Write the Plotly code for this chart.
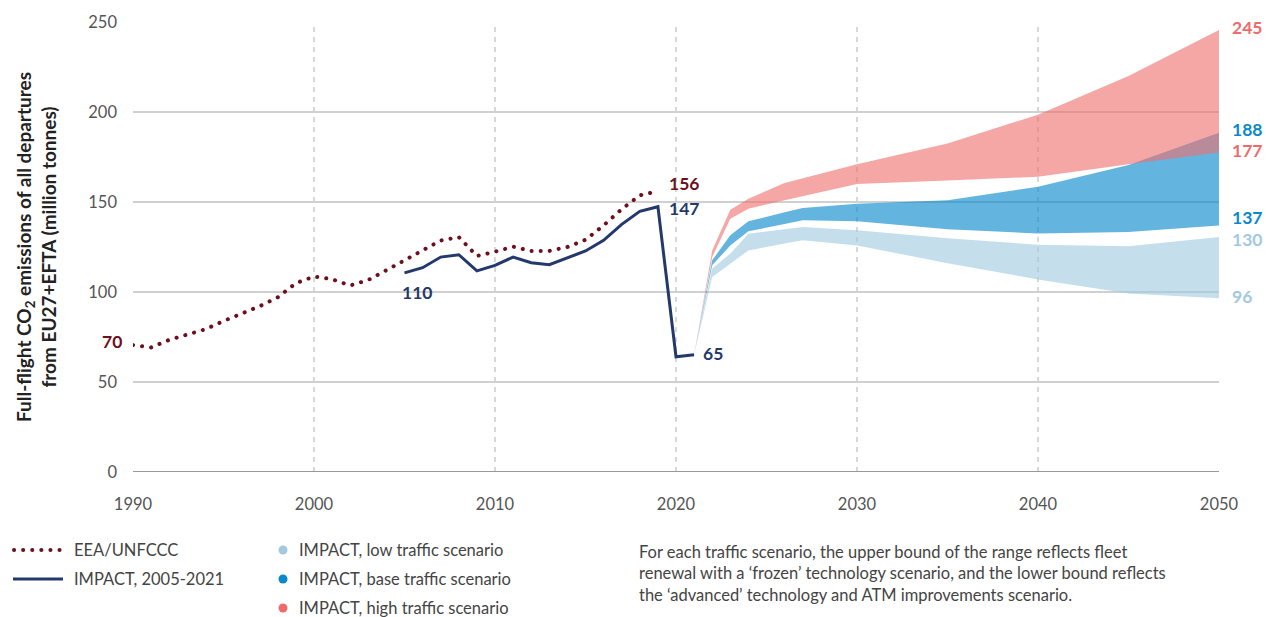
import plotly.graph_objects as go

# ---------------- data ----------------
eea_years = list(range(1990, 2020))
eea_vals = [70.5, 69.2, 73.4, 76.2, 79.3, 83.9, 88.2, 92.1, 97.1, 104.9,
            108.6, 107.1, 103.6, 106.7, 112.1, 117.6, 123.0, 128.6, 130.5, 120.0,
            122.4, 125.2, 122.8, 122.8, 125.0, 129.0, 137.0, 146.0, 153.7, 156.0]

impact_years = list(range(2005, 2022))
impact_vals = [110.6, 113.5, 119.4, 120.7, 111.7, 114.8, 119.4, 116.3, 115.2,
               119.1, 122.8, 128.7, 137.6, 144.8, 147.4, 64.0, 65.2]

scen_years = [2021, 2022, 2023, 2024, 2026, 2027, 2030, 2035, 2040, 2045, 2050]
high_upper = [65.2, 123.0, 145.7, 151.8, 160.6, 163.2, 171.0, 182.5, 198.5, 220.0, 245.5]
high_lower = [65.2, 119.4, 140.7, 146.3, 151.0, 153.3, 160.0, 162.0, 164.0, 171.0, 177.5]
base_upper = [65.2, 117.6, 131.5, 139.3, 144.3, 146.7, 149.0, 151.0, 158.5, 170.5, 188.5]
base_lower = [65.2, 114.8, 125.9, 133.7, 137.8, 139.8, 139.3, 134.8, 132.5, 133.3, 137.0]
low_upper = [65.2, 113.0, 121.3, 132.4, 134.8, 136.1, 134.3, 129.8, 126.3, 125.4, 130.5]
low_lower = [65.2, 108.3, 115.7, 123.1, 126.9, 128.7, 125.9, 116.0, 107.0, 99.2, 96.5]

x_ticks = [1990, 2000, 2010, 2020, 2030, 2040, 2050]
y_ticks = [0, 50, 100, 150, 200, 250]

legend_names = ["EEA/UNFCCC", "IMPACT, 2005-2021",
                "IMPACT, low traffic scenario", "IMPACT, base traffic scenario",
                "IMPACT, high traffic scenario"]
note_text = ("For each traffic scenario, the upper bound of the range reflects fleet<br>"
             "renewal with a \u2018frozen\u2019 technology scenario, and the lower bound reflects<br>"
             "the \u2018advanced\u2019 technology and ATM improvements scenario.")

# ---------------- styles ----------------
FONT = "Lato"
MAROON = "#6d0f1c"
NAVY = "#23386b"
LOW_FILL = "rgba(160,201,224,0.61)"
BASE_FILL = "rgba(0,134,204,0.61)"
HIGH_FILL = "rgba(239,113,112,0.62)"
LOW_SOLID = "#a3c9e0"
BASE_SOLID = "#0a88cc"
HIGH_SOLID = "#ef6b6a"
LEG_COLOR = "#444444"

W, H = 1266, 617
ML, MR, MT, MB = 133, 47, 22, 145
PW, PH = W - ML - MR, H - MT - MB


def px(x):
    return (x - ML) / PW


def py(y):
    return (H - MB - y) / PH


fig = go.Figure()

# scenario bands (low, base, high - high on top)
for lower, upper, fill in [(low_lower, low_upper, LOW_FILL),
                           (base_lower, base_upper, BASE_FILL),
                           (high_lower, high_upper, HIGH_FILL)]:
    fig.add_trace(go.Scatter(x=scen_years, y=lower, mode="lines",
                             line=dict(width=0, color=fill), showlegend=False,
                             hoverinfo="skip"))
    fig.add_trace(go.Scatter(x=scen_years, y=upper, mode="lines",
                             line=dict(width=0, color=fill), fill="tonexty",
                             fillcolor=fill, showlegend=False, hoverinfo="skip"))

# EEA dotted line
fig.add_trace(go.Scatter(x=eea_years, y=eea_vals, mode="lines", name=legend_names[0],
                         line=dict(color=MAROON, width=3.5, dash="3px,5.5px"),
                         showlegend=False))
# IMPACT historical line
fig.add_trace(go.Scatter(x=impact_years, y=impact_vals, mode="lines", name=legend_names[1],
                         line=dict(color=NAVY, width=3), showlegend=False))

# ---------------- annotations ----------------
ann = []


def lab(x, y, text, color, xanchor="left", xshift=0, yshift=0):
    ann.append(dict(x=x, y=y, xref="x", yref="y", text=f"<b>{text}</b>",
                    showarrow=False, xanchor=xanchor, yanchor="middle",
                    xshift=xshift, yshift=yshift,
                    font=dict(family=FONT, size=17.5, color=color)))


lab(eea_years[0], eea_vals[0], "70", MAROON, xanchor="right", xshift=-9, yshift=4)
lab(eea_years[-1], eea_vals[-1], "156", MAROON, xshift=9, yshift=8)
lab(impact_years[0], impact_vals[0], "110", NAVY, xanchor="center", xshift=12, yshift=-20)
lab(impact_years[-3], impact_vals[-3], "147", NAVY, xshift=9, yshift=-2)
lab(impact_years[-1], impact_vals[-1], "65", NAVY, xshift=7, yshift=1)

lab(scen_years[-1], high_upper[-1], "245", HIGH_SOLID, xshift=11, yshift=3)
lab(scen_years[-1], base_upper[-1], "188", BASE_SOLID, xshift=11, yshift=3)
lab(scen_years[-1], high_lower[-1], "177", HIGH_SOLID, xshift=11, yshift=2)
lab(scen_years[-1], base_lower[-1], "137", BASE_SOLID, xshift=11, yshift=8)
lab(scen_years[-1], low_upper[-1], "130", LOW_SOLID, xshift=11, yshift=-2)
lab(scen_years[-1], low_lower[-1], "96", LOW_SOLID, xshift=11, yshift=2)

# note text
ann.append(dict(x=px(637), y=py(540), xref="paper", yref="paper", text=note_text,
                showarrow=False, xanchor="left", yanchor="top", align="left",
                font=dict(family=FONT, size=16.5, color=LEG_COLOR)))

shapes = []
# custom legend: column 1 (lines)
row_y = [550, 579, 608]
shapes.append(dict(type="line", xref="paper", yref="paper",
                   x0=px(14), x1=px(62), y0=py(row_y[0]), y1=py(row_y[0]),
                   line=dict(color=MAROON, width=3.5, dash="3px,5.5px")))
shapes.append(dict(type="line", xref="paper", yref="paper",
                   x0=px(13), x1=px(63), y0=py(row_y[1]), y1=py(row_y[1]),
                   line=dict(color=NAVY, width=3)))
for i, name in enumerate(legend_names[:2]):
    ann.append(dict(x=px(72), y=py(row_y[i]), xref="paper", yref="paper", text=name,
                    showarrow=False, xanchor="left", yanchor="middle",
                    font=dict(family=FONT, size=16.5, color=LEG_COLOR)))
# column 2 (scenario dots)
for i, (name, col) in enumerate(zip(legend_names[2:], [LOW_SOLID, BASE_SOLID, HIGH_SOLID])):
    r = 4.5
    shapes.append(dict(type="circle", xref="paper", yref="paper",
                       x0=px(283 - r), x1=px(283 + r), y0=py(row_y[i] + r), y1=py(row_y[i] - r),
                       fillcolor=col, line=dict(width=0)))
    ann.append(dict(x=px(297), y=py(row_y[i]), xref="paper", yref="paper", text=name,
                    showarrow=False, xanchor="left", yanchor="middle",
                    font=dict(family=FONT, size=16.5, color=LEG_COLOR)))

# dashed vertical gridlines & baseline
for xv in x_ticks[1:-1]:
    shapes.append(dict(type="line", x0=xv, x1=xv, y0=0, y1=250, xref="x", yref="y",
                       line=dict(color="#cccccc", width=1.5, dash="5px,5px"), layer="below"))
shapes.append(dict(type="line", x0=1990, x1=2050, y0=0, y1=0, xref="x", yref="y",
                   line=dict(color="#999999", width=2), layer="below"))

fig.update_layout(
    width=W, height=H,
    margin=dict(l=ML, r=MR, t=MT, b=MB, autoexpand=False),
    paper_bgcolor="white", plot_bgcolor="white",
    font=dict(family=FONT, color="#555"),
    annotations=ann, shapes=shapes,
    showlegend=False,
)

fig.update_xaxes(range=[1990, 2050], tickvals=x_ticks, ticktext=[str(v) for v in x_ticks],
                 showgrid=False, zeroline=False, showline=False,
                 tickfont=dict(family=FONT, size=16.5, color="#555"),
                 ticks="", ticklabelstandoff=20, fixedrange=True)
fig.update_yaxes(range=[0, 250], tickvals=y_ticks, showgrid=True,
                 gridcolor="#d0d0d0", gridwidth=1.5, zeroline=False, showline=False,
                 tickfont=dict(family=FONT, size=16.5, color="#555"),
                 ticklabelstandoff=15, fixedrange=True,
                 title=dict(text="<b>Full-flight CO<sub>2</sub> emissions of all departures<br>"
                                 "from EU27+EFTA (million tonnes)</b>",
                            font=dict(family=FONT, size=19, color="#222"), standoff=26))

post = """
document.body.style.margin = '0px';
var gd = document.getElementById('{plot_id}');
function roundDots() {
  gd.querySelectorAll('path').forEach(function(p) {
    var cs = window.getComputedStyle(p);
    var s = (cs.stroke || '').replace(/\\s/g, '');
    var da = (cs.strokeDasharray || '').replace(/\\s/g, '');
    if (s === 'rgb(109,15,28)' || da.indexOf('5.5') >= 0) {
      p.style.strokeLinecap = 'round';
      p.style.strokeDasharray = '0.1px, 9px';
      p.style.strokeWidth = '4px';
    }
  });
}
roundDots();
if (gd.on) { gd.on('plotly_afterplot', roundDots); }
setTimeout(roundDots, 50);
setTimeout(roundDots, 300);
setTimeout(roundDots, 1000);
"""

fig.write_html("out.html", post_script=post, config={"displayModeBar": False})
